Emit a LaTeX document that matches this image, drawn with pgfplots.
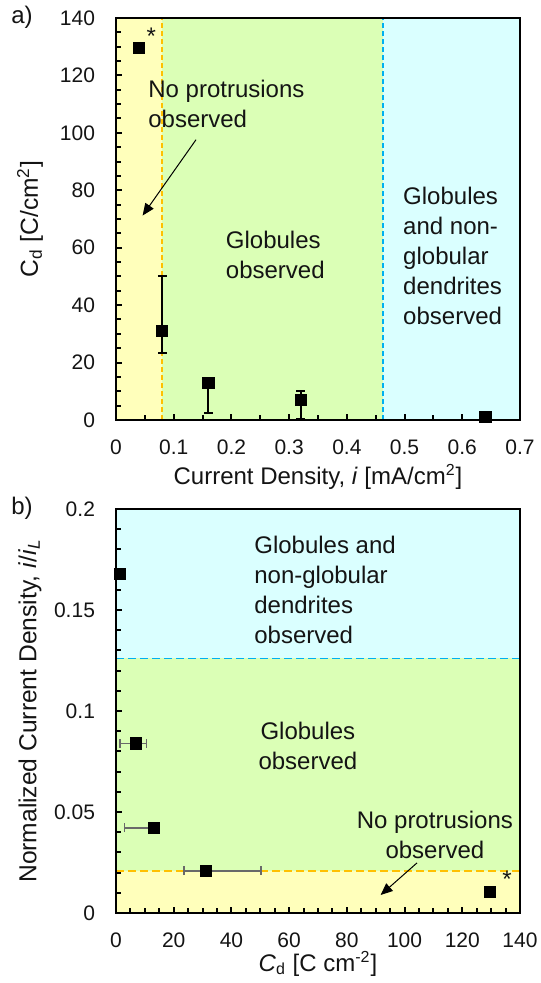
\documentclass[border=0pt]{standalone}
\usepackage{fontspec}
\setmainfont{Liberation Sans}
\usepackage{pgfplots}
\pgfplotsset{compat=1.18}
\usetikzlibrary{arrows.meta}
\definecolor{yreg}{RGB}{255,255,187}
\definecolor{greg}{RGB}{219,255,182}
\definecolor{creg}{RGB}{218,255,255}
\definecolor{oline}{RGB}{255,192,0}
\definecolor{bline}{RGB}{0,176,240}
\definecolor{ebgrey}{RGB}{105,105,105}
\definecolor{txt}{RGB}{20,20,20}
\begin{document}
\begin{tikzpicture}
\useasboundingbox (0pt,0pt) rectangle (270pt,-491.5pt);
\pgfplotsset{
  myaxis/.style={
    scale only axis, width=202pt, height=201pt, axis on top,
    axis line style={line width=1.3pt, black},
    tick align=inside, xtick pos=bottom, ytick pos=left,
    major tick length=3pt, minor tick length=2.5pt,
    every tick/.style={line width=1pt, black},
    ticklabel style={font=\fontsize{10.5}{12}\selectfont, text=txt},
    yticklabel style={xshift=-7pt},
    xticklabel style={yshift=-6.5pt},
    label style={font=\fontsize{12}{14}\selectfont, text=txt},
    every axis y label/.style={at={(axis description cs:-0.213,0.5)}, rotate=90, anchor=center, font=\fontsize{12.3}{14}\selectfont, text=txt},
  },
}
\node[font=\fontsize{12}{14}\selectfont, text=txt] at (11pt,-8.5pt) {a)};
\node[font=\fontsize{12}{14}\selectfont, text=txt] at (11pt,-254pt) {b)};
% ---------- a) ----------
\begin{axis}[myaxis, at={(58pt,-210pt)}, anchor=south west,
  xmin=0, xmax=0.7, ymin=0, ymax=140,
  xtick={0,0.1,0.2,0.3,0.4,0.5,0.6,0.7},
  xticklabels={0,0.1,0.2,0.3,0.4,0.5,0.6,0.7},
  minor x tick num=1,
  ytick={0,20,40,60,80,100,120,140},
  yticklabels={0,20,40,60,80,100,120,140},
  minor y tick num=3,
  xlabel={Current Density, \textit{i} [mA/cm\textsuperscript{2}]},
  xlabel style={at={(axis description cs:0.5,-0.142)}, anchor=center},
  ylabel={C\textsubscript{d} [C/cm\textsuperscript{2}]},
]
\fill[yreg] (axis cs:0,0) rectangle (axis cs:0.08,140);
\fill[greg] (axis cs:0.08,0) rectangle (axis cs:0.463,140);
\fill[creg] (axis cs:0.463,0) rectangle (axis cs:0.7,140);
\draw[oline, line width=0.8pt, dash pattern=on 2.5pt off 1.5pt] (axis cs:0.08,0) -- (axis cs:0.08,140);
\draw[bline, line width=0.8pt, dash pattern=on 2.5pt off 1.5pt] (axis cs:0.463,0) -- (axis cs:0.463,140);
\addplot[only marks, mark=square*, mark size=2.8pt, black,
  error bars/.cd, y dir=both, y explicit,
  error bar style={line width=1pt, black},
  error mark options={rotate=90, line width=1pt, mark size=2.2pt, black}]
  coordinates {
  (0.04,129.5) +- (0,0)
  (0.08,31.0) += (0,19.1) -= (0,7.7)
  (0.16,12.8) += (0,1.0) -= (0,10.3)
  (0.32,7.0) += (0,3.1) -= (0,6.5)
  (0.64,1.1) +- (0,0)
  };
\node[font=\fontsize{12}{14}\selectfont, text=txt] at (axis cs:0.061,133.5) {*};
\node[font=\fontsize{12}{15}\selectfont, text=txt, align=left, anchor=west, inner sep=0pt] at (axis cs:0.0554,110) {No protrusions\\observed};
\draw[line width=0.5pt, -{Triangle[length=6pt,width=5pt]}] (axis cs:0.1386,97.6) -- (axis cs:0.0461,71.2);
\node[font=\fontsize{12}{15}\selectfont, text=txt, align=left, anchor=west, inner sep=0pt] at (axis cs:0.1898,57.6) {Globules\\observed};
\node[font=\fontsize{12}{15}\selectfont, text=txt, align=left, anchor=west, inner sep=0pt] at (axis cs:0.497,57.1) {Globules\\and non-\\globular\\dendrites\\observed};
\end{axis}
% ---------- b) ----------
\begin{axis}[myaxis, at={(58pt,-456.5pt)}, anchor=south west, height=202pt,
  xmin=0, xmax=140, ymin=0, ymax=0.2,
  xtick={0,20,40,60,80,100,120,140},
  xticklabels={0,20,40,60,80,100,120,140},
  minor x tick num=3,
  ytick={0,0.05,0.1,0.15,0.2},
  yticklabels={0,0.05,0.1,0.15,0.2},
  minor y tick num=4,
  xlabel={\textit{C}\textsubscript{d} [C cm\textsuperscript{-2}]},
  xlabel style={at={(axis description cs:0.5,-0.126)}, anchor=center},
  ylabel={Normalized Current Density, \textit{i}/\textit{i}\textsubscript{\textit{L}}},
]
\fill[yreg] (axis cs:0,0) rectangle (axis cs:140,0.0209);
\fill[greg] (axis cs:0,0.0209) rectangle (axis cs:140,0.126);
\fill[creg] (axis cs:0,0.126) rectangle (axis cs:140,0.2);
\draw[oline, line width=0.8pt, dash pattern=on 4pt off 2pt] (axis cs:0,0.0209) -- (axis cs:140,0.0209);
\draw[bline, line width=0.8pt, dash pattern=on 4pt off 2pt] (axis cs:0,0.126) -- (axis cs:140,0.126);
\addplot[only marks, mark=square*, mark size=2.8pt, black,
  error bars/.cd, x dir=both, x explicit,
  error bar style={line width=0.8pt, ebgrey},
  error mark options={rotate=90, line width=0.8pt, mark size=2.2pt, ebgrey}]
  coordinates {
  (129.5,0.0105) +- (0,0)
  (31.2,0.0209) += (19.0,0) -= (7.7,0)
  (13.2,0.0422) += (1.0,0) -= (10.3,0)
  (7.0,0.0840) += (3.6,0) -= (5.7,0)
  (1.3,0.1677) +- (0,0)
  };
\node[font=\fontsize{12}{14}\selectfont, text=txt] at (axis cs:135.5,0.0165) {*};
\node[font=\fontsize{12}{15}\selectfont, text=txt, align=left, anchor=west, inner sep=0pt] at (axis cs:47.8,0.160) {Globules and\\non-globular\\dendrites\\observed};
\node[font=\fontsize{12}{15}\selectfont, text=txt, align=center, inner sep=0pt] at (axis cs:66.5,0.0829) {Globules\\observed};
\node[font=\fontsize{12}{15}\selectfont, text=txt, align=center, inner sep=0pt] at (axis cs:110.5,0.0386) {No protrusions\\observed};
\draw[line width=0.5pt, -{Triangle[length=6pt,width=5pt]}] (axis cs:104.3,0.0248) -- (axis cs:91.7,0.0089);
\end{axis}
\end{tikzpicture}
\end{document}
